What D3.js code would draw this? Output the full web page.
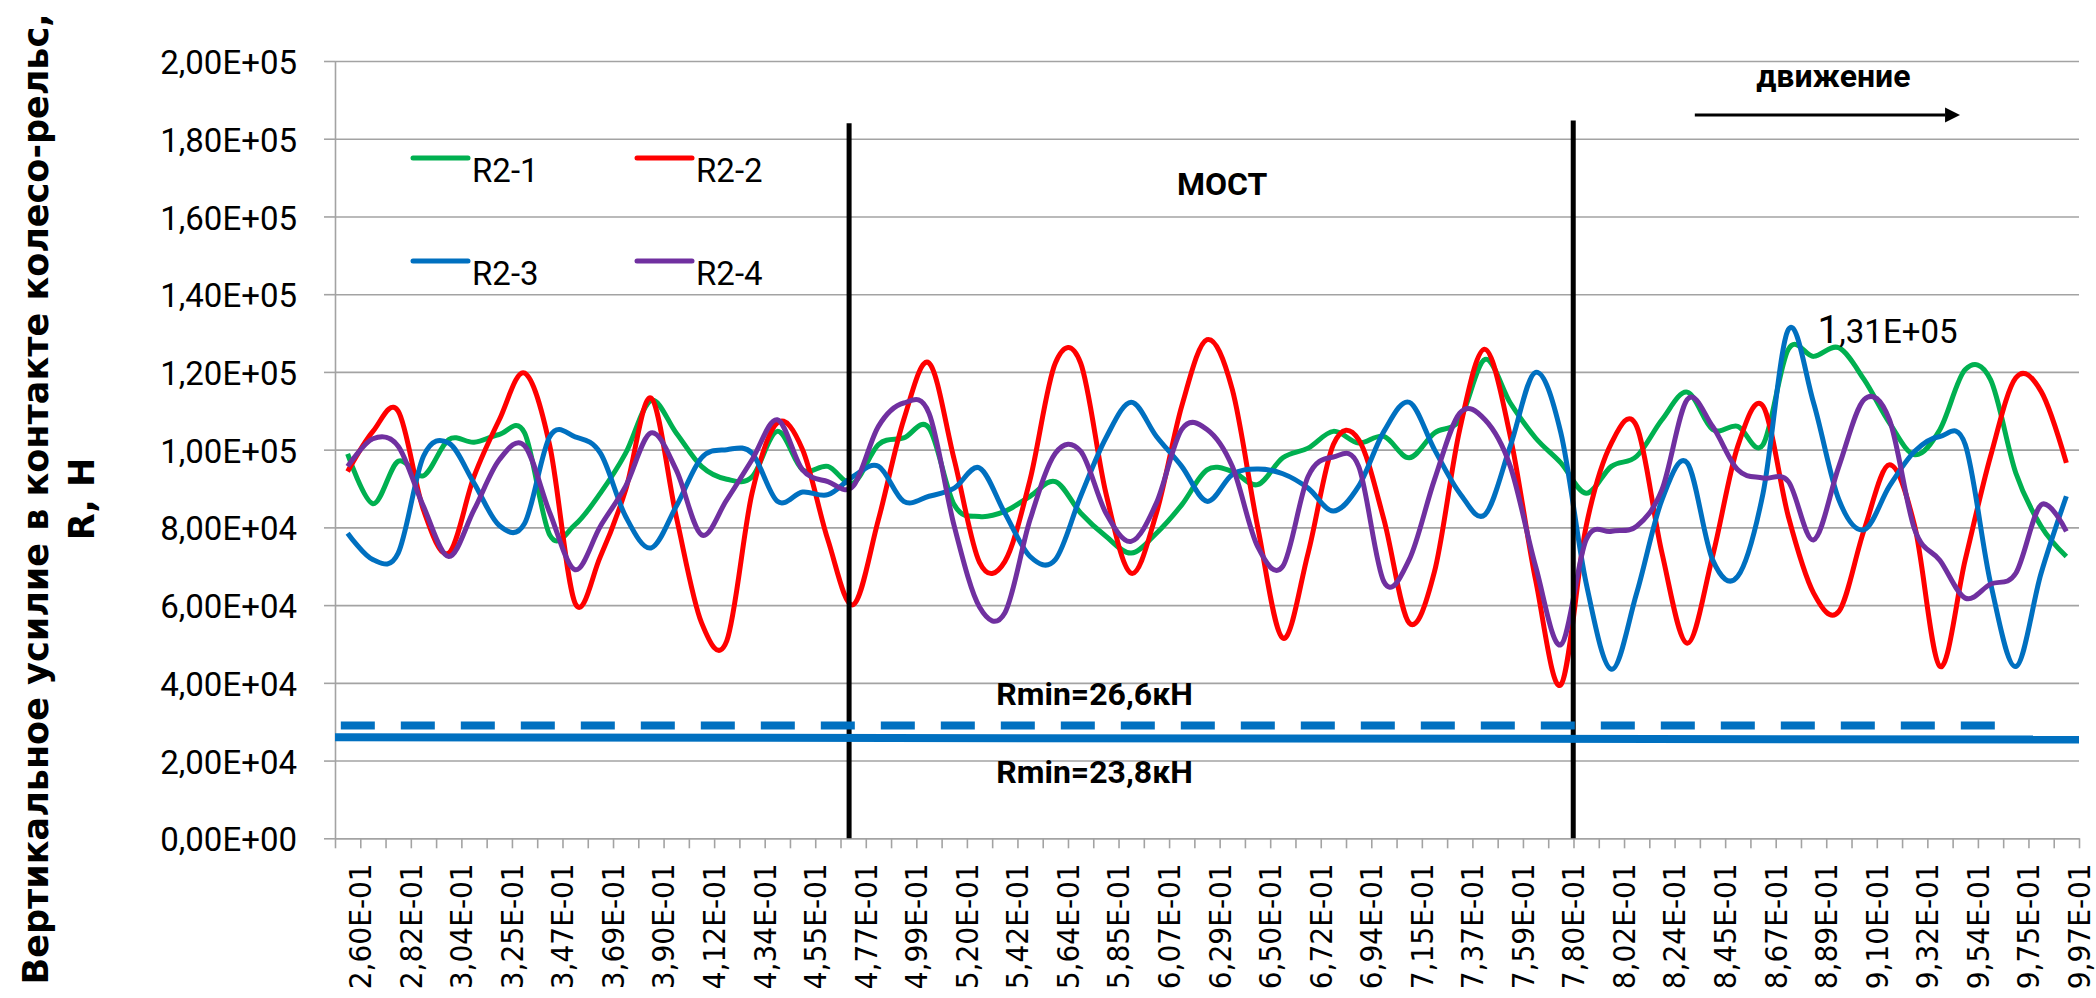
<!DOCTYPE html>
<html>
<head>
<meta charset="utf-8">
<script src="https://cdn.jsdelivr.net/npm/d3@7"></script>
<style>
  body { margin: 0; background: #fff; }
  svg { display: block; }
</style>
</head>
<body>
<div id="chart"></div>
<script>
// Data
const xLabels = ["2,60E-01", "2,82E-01", "3,04E-01", "3,25E-01", "3,47E-01", "3,69E-01", "3,90E-01",
  "4,12E-01", "4,34E-01", "4,55E-01", "4,77E-01", "4,99E-01", "5,20E-01", "5,42E-01", "5,64E-01",
  "5,85E-01", "6,07E-01", "6,29E-01", "6,50E-01", "6,72E-01", "6,94E-01", "7,15E-01", "7,37E-01",
  "7,59E-01", "7,80E-01", "8,02E-01", "8,24E-01", "8,45E-01", "8,67E-01", "8,89E-01", "9,10E-01",
  "9,32E-01", "9,54E-01", "9,75E-01", "9,97E-01"]

const yTicks = [0, 20000, 40000, 60000, 80000, 100000, 120000, 140000, 160000, 180000, 200000]
const yTickLabels = ["0,00E+00", "2,00E+04", "4,00E+04", "6,00E+04", "8,00E+04", "1,00E+05",
  "1,20E+05", "1,40E+05", "1,60E+05", "1,80E+05", "2,00E+05"]

const seriesNames = ["R2-1", "R2-2", "R2-3", "R2-4"]
const seriesColors = ["#00b050", "#ff0000", "#0070c0", "#7030a0"]

const r21 = [98900, 86100, 97000, 93300, 102600, 101900, 103900, 104300, 78000, 80700,
  88800, 99100, 112600, 104300, 95700, 92400, 93000, 104700, 94800, 95700,
  91400, 101300, 103000, 105600, 85800, 82800, 84100, 88000, 91800, 83700,
  77700, 73400, 78500, 85800, 94800, 94400, 91000, 97900, 100400, 104700,
  101700, 103400, 97900, 104300, 107700, 123200, 112000, 103000, 96600, 88800,
  95700, 98300, 107700, 114800, 105200, 106000, 101300, 125800, 124000, 126200,
  118000, 106900, 98700, 105200, 120600, 118000, 94000, 80300, 72500]

const r22 = [94400, 104700, 109900, 84500, 73400, 93100, 107700, 119700, 100900, 60500,
  72500, 89700, 113300, 82800, 55500, 50800, 88800, 106900, 100000, 76800,
  60100, 82000, 107700, 122300, 97400, 71000, 71200, 92300, 122300, 122300,
  88800, 68200, 83700, 111200, 128300, 115500, 80300, 51500, 73400, 101300,
  102600, 82000, 55400, 68600, 105200, 125800, 103400, 66500, 39500, 80300,
  101700, 106000, 73400, 50200, 72500, 100900, 111200, 82800, 63100, 58400,
  79400, 96100, 80300, 44200, 71700, 98300, 118500, 115000, 96600]

const r23 = [78500, 71700, 73400, 98300, 101700, 91400, 80500, 81000, 103400, 103300,
  99100, 82800, 74700, 85400, 97900, 100000, 99100, 86700, 89100, 88400,
  93100, 95700, 86700, 88000, 90100, 95300, 83700, 72500, 71700, 88000,
  103000, 112200, 103400, 95700, 86700, 93600, 95000, 93800, 90100, 84200,
  90600, 104700, 112200, 100000, 88800, 83300, 100900, 119900, 104300, 65700,
  43500, 63100, 87100, 96600, 71700, 67400, 88800, 130900, 112000, 87100,
  79400, 90600, 99600, 103400, 101300, 65700, 44200, 68200, 88000]

const r24 = [95700, 102800, 100900, 85400, 72500, 84500, 97400, 101000, 83700, 69100,
  80300, 90600, 104300, 94800, 78100, 87100, 97400, 107700, 94800, 91800,
  90600, 106000, 112000, 109400, 80300, 59500, 58000, 82000, 99100, 99600,
  83700, 76400, 86300, 105200, 105200, 95700, 75100, 70000, 93100, 98100,
  95700, 66000, 71700, 92300, 109400, 107700, 95700, 70000, 49800, 76800,
  79000, 80300, 89700, 112900, 106000, 94800, 92700, 91800, 76800, 95700,
  112900, 107700, 79400, 71500, 61800, 65400, 68200, 85800, 79000]

const seriesValues = [r21, r22, r23, r24]

// bridge borders (category position, top value) and minimum force lines
const bridgeLines = [{ cat: 19.84, top: 184000 }, { cat: 48.49, top: 184700 }]
const rminDashed = [{ cat: -0.27, value: 29000 }, { cat: 66.0, value: 29000 }]
const rminSolid = [{ cat: -0.5, value: 26000 }, { cat: 68.5, value: 25400 }]

function draw() {
  // Dimensions
  let dimensions = {
    width: 2096,
    height: 998,
    left: 335,
    right: 17,
    top: 61,
    bottom: 159.7,
  }
  dimensions.ctrWidth = dimensions.width - dimensions.left - dimensions.right
  dimensions.ctrHeight = dimensions.height - dimensions.top - dimensions.bottom

  const svg = d3.select('#chart')
    .append('svg')
    .attr('width', dimensions.width)
    .attr('height', dimensions.height)

  const ctr = svg.append('g')
    .attr('transform', `translate(${dimensions.left}, ${dimensions.top})`)

  // Scales
  const xScale = d3.scaleLinear()
    .domain([-0.5, 68.5])
    .range([0, dimensions.ctrWidth])

  const yScale = d3.scaleLinear()
    .domain([0, 200000])
    .range([dimensions.ctrHeight, 0])

  // Gridlines
  ctr.append('g')
    .call(d3.axisLeft(yScale).tickValues(yTicks).tickSize(-dimensions.ctrWidth).tickFormat(''))
    .call(g => g.select('.domain').remove())
    .selectAll('line')
    .attr('stroke', '#a3a3a3')
    .attr('stroke-width', 1.6)

  // Y axis
  const yAxis = d3.axisLeft(yScale)
    .tickValues(yTicks)
    .tickFormat((d, i) => yTickLabels[i])
    .tickSize(11)
    .tickSizeOuter(0)
    .tickPadding(27)

  const yAxisGroup = ctr.append('g').call(yAxis)
  yAxisGroup.selectAll('line, path').attr('stroke', '#a3a3a3').attr('stroke-width', 1.6)
  yAxisGroup.selectAll('text')
    .attr('dy', '0.38em')
    .style('font-family', 'Roboto')
    .style('font-size', '33px')
    .attr('fill', '#000')

  // X axis ticks (between categories)
  const xAxisGroup = ctr.append('g')
    .attr('transform', `translate(0, ${dimensions.ctrHeight})`)
    .call(d3.axisBottom(xScale).tickValues(d3.range(-0.5, 69, 1)).tickSize(10).tickSizeOuter(0).tickFormat(''))
  xAxisGroup.selectAll('line, path').attr('stroke', '#a3a3a3').attr('stroke-width', 1.6)

  // X axis labels (every second category)
  ctr.append('g')
    .attr('transform', `translate(0, ${dimensions.ctrHeight})`)
    .call(d3.axisBottom(xScale).tickValues(d3.range(0, 69, 2)).tickSize(0).tickFormat((d, i) => xLabels[i]))
    .call(g => g.select('.domain').remove())
    .selectAll('text')
    .attr('transform', 'rotate(-90)')
    .attr('x', -25)
    .attr('y', 23)
    .attr('dy', 0)
    .attr('text-anchor', 'end')
    .attr('textLength', 126)
    .attr('lengthAdjust', 'spacingAndGlyphs')
    .style('font-family', 'DejaVu Sans')
    .style('font-size', '31px')
    .attr('fill', '#000')

  // Series
  const lineGenerator = d3.line()
    .x((d, i) => xScale(i))
    .y(d => yScale(d))
    .curve(d3.curveCardinal.tension(0))

  seriesValues.forEach((values, k) => {
    ctr.append('path')
      .datum(values)
      .attr('d', lineGenerator)
      .attr('fill', 'none')
      .attr('stroke', seriesColors[k])
      .attr('stroke-width', 5)
      .attr('stroke-linejoin', 'round')
  })

  // Bridge borders
  ctr.selectAll('.bridge')
    .data(bridgeLines)
    .join('line')
    .attr('x1', d => xScale(d.cat))
    .attr('x2', d => xScale(d.cat))
    .attr('y1', d => yScale(d.top))
    .attr('y2', yScale(0))
    .attr('stroke', '#000')
    .attr('stroke-width', 5)

  // Rmin lines
  const rminLine = d3.line()
    .x(d => xScale(d.cat))
    .y(d => yScale(d.value))

  ctr.append('path')
    .datum(rminSolid)
    .attr('d', rminLine)
    .attr('stroke', '#0070c0')
    .attr('stroke-width', 8)
    .attr('fill', 'none')

  ctr.append('path')
    .datum(rminDashed)
    .attr('d', rminLine)
    .attr('stroke', '#0070c0')
    .attr('stroke-width', 8)
    .attr('stroke-dasharray', '34 26')
    .attr('fill', 'none')

  // Annotations
  const boldText = (cat, value, text, anchor) => ctr.append('text')
    .attr('x', xScale(cat))
    .attr('y', yScale(value))
    .attr('text-anchor', anchor)
    .style('font-family', 'Roboto')
    .style('font-weight', 700)
    .style('font-size', '32px')
    .text(text)

  boldText(34.6, 165500, 'МОСТ', 'middle')
  boldText(58.78, 193400, 'движение', 'middle')
  boldText(25.66, 34300, 'Rmin=26,6кН', 'start')
  boldText(25.66, 14300, 'Rmin=23,8кН', 'start')

  // peak label
  const peakLabel = ctr.append('text')
    .attr('x', xScale(58.15))
    .attr('y', yScale(127400))
    .style('font-family', 'Roboto')
    .style('font-size', '33px')
  peakLabel.append('tspan').style('font-size', '39px').text('1')
  peakLabel.append('tspan').text(',31E+05')

  // direction arrow
  svg.append('defs').append('marker')
    .attr('id', 'arrow')
    .attr('viewBox', '0 0 10 10')
    .attr('refX', 0)
    .attr('refY', 5)
    .attr('markerWidth', 5)
    .attr('markerHeight', 5.4)
    .attr('markerUnits', 'strokeWidth')
    .attr('orient', 'auto')
    .append('path')
    .attr('d', 'M0,0 L10,5 L0,10 Z')
    .attr('fill', '#000')

  ctr.append('line')
    .attr('x1', xScale(53.3))
    .attr('x2', xScale(63.2))
    .attr('y1', yScale(186100))
    .attr('y2', yScale(186100))
    .attr('stroke', '#000')
    .attr('stroke-width', 3)
    .attr('marker-end', 'url(#arrow)')

  // Legend
  const legend = svg.append('g')
  const legendPos = [[413, 158], [637, 158], [413, 261], [637, 261]]
  seriesNames.forEach((name, k) => {
    const [lx, ly] = legendPos[k]
    legend.append('line')
      .attr('x1', lx).attr('x2', lx + 55)
      .attr('y1', ly).attr('y2', ly)
      .attr('stroke', seriesColors[k])
      .attr('stroke-width', 5)
      .attr('stroke-linecap', 'round')
    legend.append('text')
      .attr('x', lx + 59)
      .attr('y', ly + 24)
      .style('font-family', 'Roboto')
      .style('font-size', '33px')
      .text(name)
  })

  // Y axis title
  const title = svg.append('g')
    .attr('transform', 'translate(0, 499)')
    .style('font-family', 'DejaVu Sans')
    .style('font-weight', 700)
    .style('font-size', '35px')
    .attr('text-anchor', 'middle')

  title.append('text')
    .attr('transform', 'translate(48, 0) rotate(-90)')
    .text('Вертикальное усилие в контакте колесо-рельс,')

  title.append('text')
    .attr('transform', 'translate(94, 0) rotate(-90)')
    .text('R, Н')
}

draw()
</script>
</body>
</html>
